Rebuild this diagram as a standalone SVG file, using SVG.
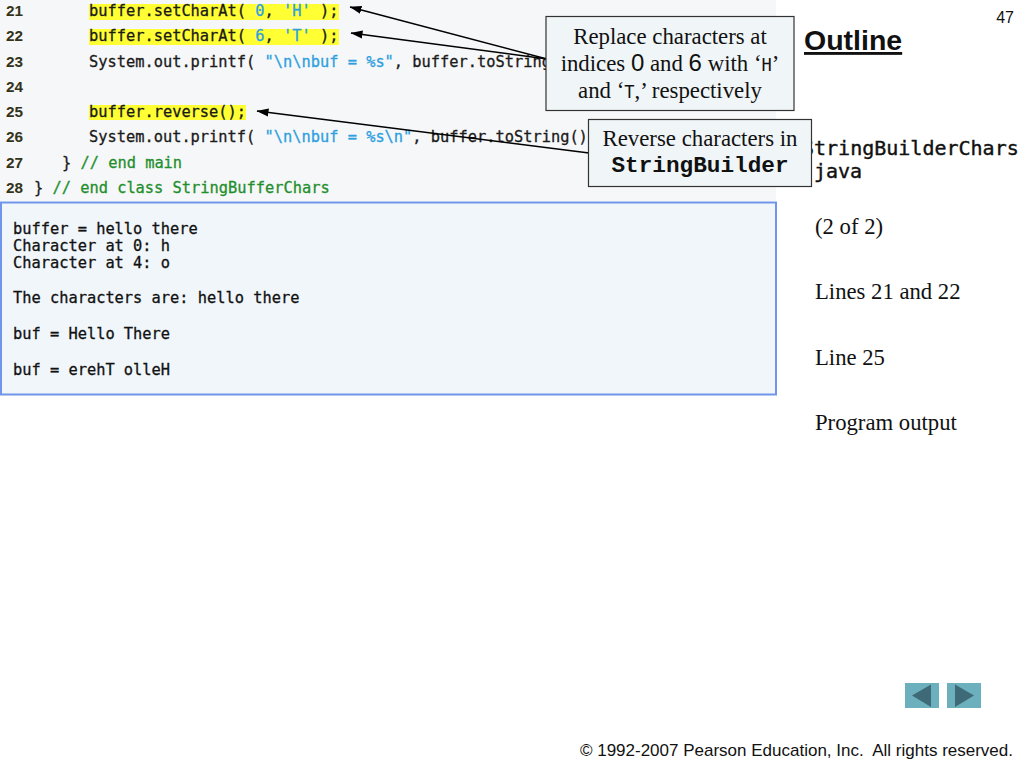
<svg xmlns="http://www.w3.org/2000/svg" width="1024" height="768" viewBox="0 0 1024 768">
<style>
.c{font-family:"DejaVu Sans Mono","Liberation Mono",monospace;font-size:15.35px;fill:#1a1a1a;stroke:#1a1a1a;stroke-width:.3;white-space:pre}
.n{font-family:"Liberation Sans",Arial,sans-serif;font-weight:bold;font-size:15.3px;fill:#33331a}
.s{fill:#2e9fe0;stroke:#2e9fe0}.g{fill:#1f8f2e;stroke:#1f8f2e}
.hl{fill:#ffff33}
.o{font-family:"DejaVu Sans Mono","Liberation Mono",monospace;font-size:15.35px;fill:#111;stroke:#111;stroke-width:.3;white-space:pre}
.t{font-family:"Liberation Serif","Times New Roman",serif;font-size:22.8px;fill:#111;text-anchor:middle}
.m{font-family:"DejaVu Sans Mono","Liberation Mono",monospace}
.d{font-family:"Liberation Sans",Arial,sans-serif;font-size:24px}
.side{font-family:"Liberation Serif","Times New Roman",serif;font-size:22.7px;fill:#111}
.box{fill:#f0f5f8;stroke:#333;stroke-width:1.2}
.file{font-family:"DejaVu Sans Mono","Liberation Mono",monospace;font-size:20px;fill:#111;stroke:#111;stroke-width:.4}
.ln{stroke:#000;stroke-width:1.5;fill:none;marker-end:url(#a)}
</style>
<defs>
<marker id="a" markerUnits="userSpaceOnUse" markerWidth="12" markerHeight="10" refX="11.5" refY="4" orient="auto" viewBox="0 0 12 8"><path d="M0 0L12 4L0 8z" fill="#000"/></marker>
</defs>
<rect width="1024" height="768" fill="#fff"/>
<rect id="code-panel" x="0" y="0" width="776" height="201" fill="#f6f7f8"/>
<g id="code">
<rect class="hl" x="89" y="4" width="250" height="16"/>
<rect class="hl" x="89" y="29" width="250" height="16"/>
<rect class="hl" x="89" y="105" width="157" height="15"/>
<text class="n" x="6" y="16">21</text><text class="c" x="89" y="16">buffer.setCharAt( <tspan class="s">0</tspan>, <tspan class="s">'H'</tspan> );</text>
<text class="n" x="6" y="41">22</text><text class="c" x="89" y="41">buffer.setCharAt( <tspan class="s">6</tspan>, <tspan class="s">'T'</tspan> );</text>
<text class="n" x="6" y="67">23</text><text class="c" x="89" y="67">System.out.printf( <tspan class="s">"\n\nbuf = %s"</tspan>, buffer.toString</text>
<text class="n" x="6" y="92">24</text>
<text class="n" x="6" y="117">25</text><text class="c" x="89" y="117">buffer.reverse();</text>
<text class="n" x="6" y="142">26</text><text class="c" x="89" y="142">System.out.printf( <tspan class="s">"\n\nbuf = %s\n"</tspan>, buffer.toString()</text>
<text class="n" x="6" y="168">27</text><text class="c" x="62" y="168">} <tspan class="g">// end main</tspan></text>
<text class="n" x="6" y="193">28</text><text class="c" x="34" y="193">} <tspan class="g">// end class StringBufferChars</tspan></text>
</g>
<g id="output">
<rect x="1" y="202.500" width="775" height="192" fill="#f0f6fa" stroke="#6f96ea" stroke-width="2"/>
<text class="o" x="13" y="234">buffer = hello there</text>
<text class="o" x="13" y="251">Character at 0: h</text>
<text class="o" x="13" y="268">Character at 4: o</text>
<text class="o" x="13" y="303">The characters are: hello there</text>
<text class="o" x="13" y="339">buf = Hello There</text>
<text class="o" x="13" y="375">buf = erehT olleH</text>
</g>
<g id="sidebar">
<text x="804" y="50" font-family="Liberation Sans,Arial,sans-serif" font-weight="bold" font-size="28.500" fill="#111" text-decoration="underline">Outline</text>
<text x="1014" y="23" font-family="Liberation Sans,Arial,sans-serif" font-size="16" fill="#111" text-anchor="end">47</text>
<text class="file" x="802" y="155">StringBuilderChars</text>
<text class="file" x="814" y="178">java</text>
<text class="side" x="815" y="234">(2 of 2)</text>
<text class="side" x="815" y="299">Lines 21 and 22</text>
<text class="side" x="815" y="365">Line 25</text>
<text class="side" x="815" y="430">Program output</text>
</g>
<g id="connectors">
<line class="ln" x1="547" y1="59" x2="350" y2="7"/>
<line class="ln" x1="547" y1="59" x2="351" y2="33"/>
<line class="ln" x1="589" y1="153" x2="257" y2="111"/>
</g>
<g id="note-replace">
<rect class="box" x="546" y="16.500" width="248" height="94"/>
<text class="t" x="670" y="44">Replace characters at</text>
<text class="t" x="670" y="71">indices <tspan class="d">0</tspan> and <tspan class="d">6</tspan> with ‘<tspan class="m" font-size="17">H</tspan>’</text>
<text class="t" x="670" y="98">and ‘<tspan class="m" font-size="17">T</tspan>,’ respectively</text>
</g>
<g id="note-reverse">
<rect class="box" x="588.500" y="119.500" width="223" height="67"/>
<text class="t" x="700" y="146">Reverse characters in</text>
<text x="700" y="172" font-family="Liberation Mono,Courier New,monospace" font-size="22.700" font-weight="bold" fill="#111" text-anchor="middle">StringBuilder</text>
</g>
<g id="nav-prev">
<rect x="905" y="683" width="34" height="25" fill="#6cb0bd"/>
<path d="M912 695.500L931 684.500V707z" fill="#3d6a76"/>
</g>
<g id="nav-next">
<rect x="947" y="683" width="34" height="25" fill="#6cb0bd"/>
<path d="M974 695.500L955 684.500V707z" fill="#3d6a76"/>
</g>
<text id="copyright" x="1013" y="756" font-family="Liberation Sans,Arial,sans-serif" font-size="17" fill="#111" text-anchor="end" xml:space="preserve">© 1992-2007 Pearson Education, Inc.  All rights reserved.</text>
</svg>
